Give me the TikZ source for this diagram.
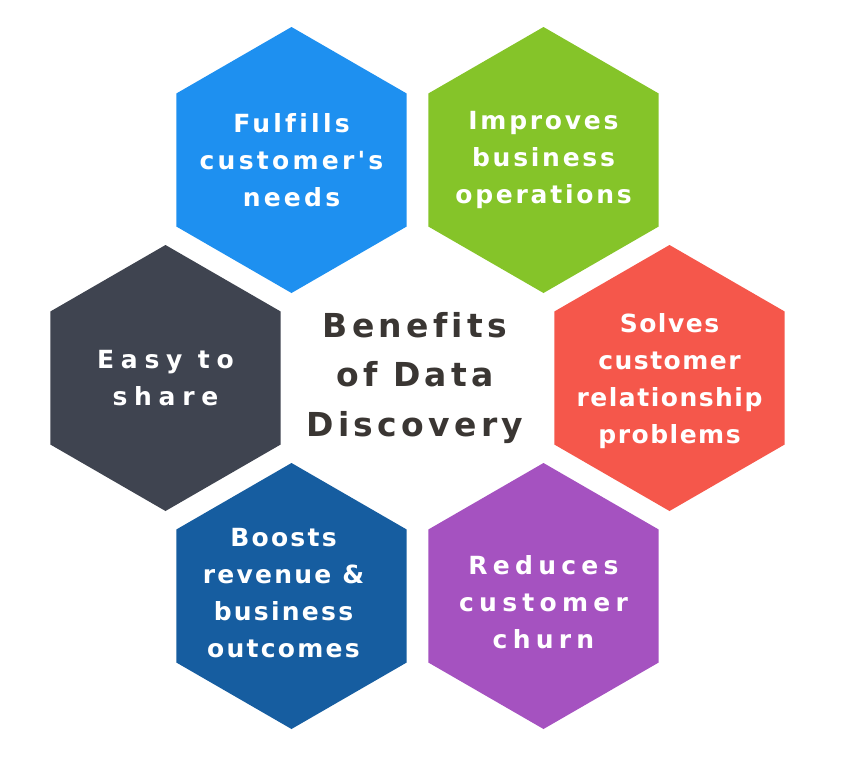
\documentclass[tikz,border=0pt]{standalone}
\usepackage{fontspec}
\setmainfont{DejaVu Sans}
\usetikzlibrary{shapes.geometric}
\newfontfamily\lsBlue{DejaVu Sans}[LetterSpace=13,Ligatures=NoCommon]
\newfontfamily\lsGreen{DejaVu Sans}[LetterSpace=11,Ligatures=NoCommon]
\newfontfamily\lsDark{DejaVu Sans}[LetterSpace=27,Ligatures=NoCommon]
\newfontfamily\lsRed{DejaVu Sans}[LetterSpace=6,Ligatures=NoCommon]
\newfontfamily\lsNavy{DejaVu Sans}[LetterSpace=9,Ligatures=NoCommon]
\newfontfamily\lsPurple{DejaVu Sans}[LetterSpace=21,Ligatures=NoCommon]
\newfontfamily\lsCenter{DejaVu Sans}[LetterSpace=13,Ligatures=NoCommon]
\definecolor{cBlue}{HTML}{1E90F0}
\definecolor{cGreen}{HTML}{85C429}
\definecolor{cDark}{HTML}{3F4450}
\definecolor{cRed}{HTML}{F5574B}
\definecolor{cNavy}{HTML}{165DA0}
\definecolor{cPurple}{HTML}{A552C0}
\definecolor{cText}{HTML}{3A3633}
\tikzset{
  hexa/.style={regular polygon, regular polygon sides=6, shape border rotate=30,
    minimum size=266pt, inner sep=0pt, outer sep=0pt, draw=none},
  lbl/.style={align=center, text=white, inner sep=0pt},
  ctr/.style={align=center, text=cText, inner sep=0pt,
    font=\lsCenter\fontsize{33}{49.5}\selectfont\bfseries}
}
\begin{document}
\begin{tikzpicture}[x=1pt,y=-1pt]
\useasboundingbox (0,0) rectangle (848,761);
\node[hexa, fill=cBlue]   (h1) at (291.5,160) {};
\node[hexa, fill=cGreen]  (h2) at (543.5,160) {};
\node[hexa, fill=cDark]   (h3) at (165.5,378) {};
\node[hexa, fill=cRed]    (h4) at (669.5,378) {};
\node[hexa, fill=cNavy]   (h5) at (291.5,596) {};
\node[hexa, fill=cPurple] (h6) at (543.5,596) {};
\node[lbl, font=\lsBlue\fontsize{25}{37}\selectfont\bfseries] (t1) at (h1) {Fulfills\\customer's\\needs};
\node[lbl, font=\lsGreen\fontsize{25}{37}\selectfont\bfseries] (t2) at (h2) {Improves\\business\\operations};
\node[lbl, font=\lsDark\fontsize{25}{37}\selectfont\bfseries] (t3) at (h3) {Easy to\\share};
\node[lbl, font=\lsRed\fontsize{25}{37}\selectfont\bfseries] (t4) at ([yshift=-3pt]h4) {Solves\\customer\\relationship\\problems};
\node[lbl, font=\lsNavy\fontsize{25}{37}\selectfont\bfseries] (t5) at ([shift={(-8,-3)}]h5) {Boosts\\revenue \&\\business\\outcomes};
\node[lbl, font=\lsPurple\fontsize{25}{37}\selectfont\bfseries] (t6) at ([yshift=-6pt]h6) {Reduces\\customer\\churn};
\node[ctr] (c) at (415,378) {Benefits\\of Data\\Discovery};
\end{tikzpicture}
\end{document}
